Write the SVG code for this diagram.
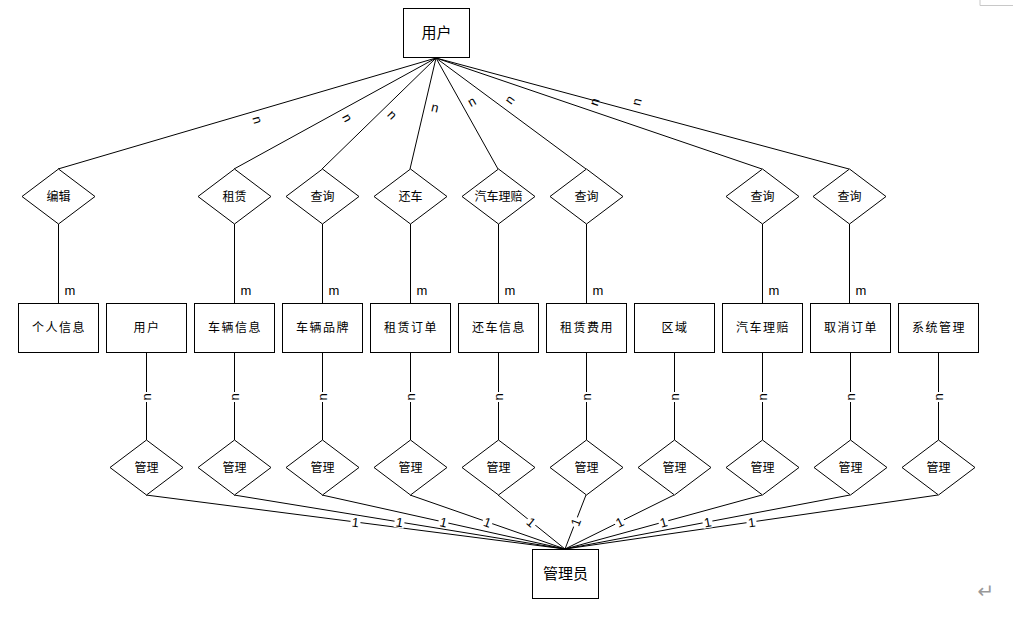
<svg xmlns="http://www.w3.org/2000/svg" width="1013" height="618" viewBox="0 0 1013 618">
<style>
.box{fill:#fff;stroke:#000;stroke-width:1}
.dia{fill:#fff;stroke:#000;stroke-width:1}
.ln{stroke:#000;stroke-width:1;fill:none}
.t{font-family:"Noto Sans CJK SC","Noto Sans",sans-serif;font-size:12px;fill:#000;text-anchor:middle}
.tr{font-family:"Noto Sans CJK SC","Noto Sans",sans-serif;font-size:12px;letter-spacing:1.5px;fill:#000;text-anchor:middle}
.tb{font-family:"Noto Sans CJK SC","Noto Sans",sans-serif;font-size:15px;fill:#000;text-anchor:middle}
.lab{font-family:"Liberation Sans",Arial,sans-serif;font-size:13px;fill:#000;text-anchor:middle}
.bg{fill:#fff}
</style>
<rect width="1013" height="618" fill="#fff"/>
<polyline points="980,0 980,5.5 1013,5.5" fill="none" stroke="#c8c8c8" stroke-width="1"/>
<g id="connectors">
<g class="ln">
<line x1="436" y1="58" x2="58" y2="169"/>
<line x1="436" y1="58" x2="234" y2="169"/>
<line x1="436" y1="58" x2="322" y2="169"/>
<line x1="436" y1="58" x2="410" y2="169"/>
<line x1="436" y1="58" x2="498" y2="169"/>
<line x1="436" y1="58" x2="586" y2="169"/>
<line x1="436" y1="58" x2="762" y2="169"/>
<line x1="436" y1="58" x2="849" y2="169"/>
<line x1="58.5" y1="224" x2="58.5" y2="303"/>
<line x1="234.5" y1="224" x2="234.5" y2="303"/>
<line x1="322.5" y1="224" x2="322.5" y2="303"/>
<line x1="410.5" y1="224" x2="410.5" y2="303"/>
<line x1="498.5" y1="224" x2="498.5" y2="303"/>
<line x1="586.5" y1="224" x2="586.5" y2="303"/>
<line x1="762.5" y1="224" x2="762.5" y2="303"/>
<line x1="849.5" y1="224" x2="849.5" y2="303"/>
<line x1="146.5" y1="352" x2="146.5" y2="440"/>
<line x1="234.5" y1="352" x2="234.5" y2="440"/>
<line x1="322.5" y1="352" x2="322.5" y2="440"/>
<line x1="410.5" y1="352" x2="410.5" y2="440"/>
<line x1="498.5" y1="352" x2="498.5" y2="440"/>
<line x1="586.5" y1="352" x2="586.5" y2="440"/>
<line x1="674.5" y1="352" x2="674.5" y2="440"/>
<line x1="762.5" y1="352" x2="762.5" y2="440"/>
<line x1="850.5" y1="352" x2="850.5" y2="440"/>
<line x1="938.5" y1="352" x2="938.5" y2="440"/>
<line x1="146" y1="495" x2="565" y2="549"/>
<line x1="234" y1="495" x2="565" y2="549"/>
<line x1="322" y1="495" x2="565" y2="549"/>
<line x1="410" y1="495" x2="565" y2="549"/>
<line x1="498" y1="495" x2="565" y2="549"/>
<line x1="586" y1="495" x2="565" y2="549"/>
<line x1="674" y1="495" x2="565" y2="549"/>
<line x1="762" y1="495" x2="565" y2="549"/>
<line x1="850" y1="495" x2="565" y2="549"/>
<line x1="938" y1="495" x2="565" y2="549"/>
</g>
<g id="labels-n-top" class="lab">
<text transform="translate(257,120) rotate(73.6)" y="4">n</text>
<text transform="translate(347,118) rotate(61.2)" y="4">n</text>
<text transform="translate(392,115) rotate(45.8)" y="4">n</text>
<text transform="translate(435,108) rotate(13.2)" y="4">n</text>
<text transform="translate(472,102) rotate(-29.2)" y="4">n</text>
<text transform="translate(510,100) rotate(-53.5)" y="4">n</text>
<text transform="translate(595,102) rotate(-71.2)" y="4">n</text>
<text transform="translate(637,102) rotate(-75)" y="4">n</text>
</g>
<g id="labels-m" class="lab">
<text x="70" y="295">m</text>
<text x="246" y="295">m</text>
<text x="334" y="295">m</text>
<text x="422" y="295">m</text>
<text x="510" y="295">m</text>
<text x="598" y="295">m</text>
<text x="774" y="295">m</text>
<text x="861" y="295">m</text>
</g>
<g id="labels-n-low" class="lab">
<g transform="translate(146.5,397)"><rect class="bg" x="-5" y="-5" width="10" height="10"/><text transform="rotate(-90)" y="4">n</text></g>
<g transform="translate(234.5,397)"><rect class="bg" x="-5" y="-5" width="10" height="10"/><text transform="rotate(-90)" y="4">n</text></g>
<g transform="translate(322.5,397)"><rect class="bg" x="-5" y="-5" width="10" height="10"/><text transform="rotate(-90)" y="4">n</text></g>
<g transform="translate(410.5,397)"><rect class="bg" x="-5" y="-5" width="10" height="10"/><text transform="rotate(-90)" y="4">n</text></g>
<g transform="translate(498.5,397)"><rect class="bg" x="-5" y="-5" width="10" height="10"/><text transform="rotate(-90)" y="4">n</text></g>
<g transform="translate(586.5,397)"><rect class="bg" x="-5" y="-5" width="10" height="10"/><text transform="rotate(-90)" y="4">n</text></g>
<g transform="translate(674.5,397)"><rect class="bg" x="-5" y="-5" width="10" height="10"/><text transform="rotate(-90)" y="4">n</text></g>
<g transform="translate(762.5,397)"><rect class="bg" x="-5" y="-5" width="10" height="10"/><text transform="rotate(-90)" y="4">n</text></g>
<g transform="translate(850.5,397)"><rect class="bg" x="-5" y="-5" width="10" height="10"/><text transform="rotate(-90)" y="4">n</text></g>
<g transform="translate(938.5,397)"><rect class="bg" x="-5" y="-5" width="10" height="10"/><text transform="rotate(-90)" y="4">n</text></g>
</g>
<g id="labels-1" class="lab">
<g transform="translate(355.5,522) rotate(7.3)"><rect class="bg" x="-5" y="-6" width="10" height="12"/><text y="5">1</text></g>
<g transform="translate(399.5,522) rotate(9.3)"><rect class="bg" x="-5" y="-6" width="10" height="12"/><text y="5">1</text></g>
<g transform="translate(443.5,522) rotate(12.5)"><rect class="bg" x="-5" y="-6" width="10" height="12"/><text y="5">1</text></g>
<g transform="translate(487.5,522) rotate(19.3)"><rect class="bg" x="-5" y="-6" width="10" height="12"/><text y="5">1</text></g>
<g transform="translate(531.5,522) rotate(38.9)"><rect class="bg" x="-5" y="-6" width="10" height="12"/><text y="5">1</text></g>
<g transform="translate(575.5,522) rotate(-68.7)"><rect class="bg" x="-5" y="-6" width="10" height="12"/><text y="5">1</text></g>
<g transform="translate(619.5,522) rotate(-26.4)"><rect class="bg" x="-5" y="-6" width="10" height="12"/><text y="5">1</text></g>
<g transform="translate(663.5,522) rotate(-15.3)"><rect class="bg" x="-5" y="-6" width="10" height="12"/><text y="5">1</text></g>
<g transform="translate(707.5,522) rotate(-10.7)"><rect class="bg" x="-5" y="-6" width="10" height="12"/><text y="5">1</text></g>
<g transform="translate(751.5,522) rotate(-8.2)"><rect class="bg" x="-5" y="-6" width="10" height="12"/><text y="5">1</text></g>
</g>
</g>
<g id="user-top"><rect class="box" x="403.5" y="8.5" width="66" height="49"/><text class="tb" x="436.5" y="38">用户</text></g>
<g id="admin"><rect class="box" x="532.5" y="549.5" width="66" height="49"/><text class="tb" x="565.5" y="579">管理员</text></g>
<g id="rel-edit"><polygon class="dia" points="58.5,169 95,196.5 58.5,224 22,196.5"/><text class="t" x="58.5" y="201">编辑</text></g>
<g id="rel-rent"><polygon class="dia" points="234.5,169 271,196.5 234.5,224 198,196.5"/><text class="t" x="234.5" y="201">租赁</text></g>
<g id="rel-query1"><polygon class="dia" points="322.5,169 359,196.5 322.5,224 286,196.5"/><text class="t" x="322.5" y="201">查询</text></g>
<g id="rel-return"><polygon class="dia" points="410.5,169 447,196.5 410.5,224 374,196.5"/><text class="t" x="410.5" y="201">还车</text></g>
<g id="rel-claim"><polygon class="dia" points="498.5,169 535,196.5 498.5,224 462,196.5"/><text class="t" x="498.5" y="201">汽车理赔</text></g>
<g id="rel-query2"><polygon class="dia" points="586.5,169 623,196.5 586.5,224 550,196.5"/><text class="t" x="586.5" y="201">查询</text></g>
<g id="rel-query3"><polygon class="dia" points="762.5,169 799,196.5 762.5,224 726,196.5"/><text class="t" x="762.5" y="201">查询</text></g>
<g id="rel-query4"><polygon class="dia" points="849.5,169 886,196.5 849.5,224 813,196.5"/><text class="t" x="849.5" y="201">查询</text></g>
<g id="ent-personal"><rect class="box" x="18.5" y="303.5" width="80" height="49"/><text class="tr" x="59" y="332">个人信息</text></g>
<g id="ent-user"><rect class="box" x="106.5" y="303.5" width="80" height="49"/><text class="tr" x="147" y="332">用户</text></g>
<g id="ent-vehicle"><rect class="box" x="194.5" y="303.5" width="80" height="49"/><text class="tr" x="235" y="332">车辆信息</text></g>
<g id="ent-brand"><rect class="box" x="282.5" y="303.5" width="80" height="49"/><text class="tr" x="323" y="332">车辆品牌</text></g>
<g id="ent-order"><rect class="box" x="370.5" y="303.5" width="80" height="49"/><text class="tr" x="411" y="332">租赁订单</text></g>
<g id="ent-return"><rect class="box" x="458.5" y="303.5" width="80" height="49"/><text class="tr" x="499" y="332">还车信息</text></g>
<g id="ent-fee"><rect class="box" x="546.5" y="303.5" width="80" height="49"/><text class="tr" x="587" y="332">租赁费用</text></g>
<g id="ent-area"><rect class="box" x="634.5" y="303.5" width="80" height="49"/><text class="tr" x="675" y="332">区域</text></g>
<g id="ent-claim"><rect class="box" x="722.5" y="303.5" width="80" height="49"/><text class="tr" x="763" y="332">汽车理赔</text></g>
<g id="ent-cancel"><rect class="box" x="810.5" y="303.5" width="80" height="49"/><text class="tr" x="851" y="332">取消订单</text></g>
<g id="ent-system"><rect class="box" x="898.5" y="303.5" width="80" height="49"/><text class="tr" x="939" y="332">系统管理</text></g>
<g id="mgr-1"><polygon class="dia" points="146.5,440 183,467.5 146.5,495 110,467.5"/><text class="t" x="146.5" y="472">管理</text></g>
<g id="mgr-2"><polygon class="dia" points="234.5,440 271,467.5 234.5,495 198,467.5"/><text class="t" x="234.5" y="472">管理</text></g>
<g id="mgr-3"><polygon class="dia" points="322.5,440 359,467.5 322.5,495 286,467.5"/><text class="t" x="322.5" y="472">管理</text></g>
<g id="mgr-4"><polygon class="dia" points="410.5,440 447,467.5 410.5,495 374,467.5"/><text class="t" x="410.5" y="472">管理</text></g>
<g id="mgr-5"><polygon class="dia" points="498.5,440 535,467.5 498.5,495 462,467.5"/><text class="t" x="498.5" y="472">管理</text></g>
<g id="mgr-6"><polygon class="dia" points="586.5,440 623,467.5 586.5,495 550,467.5"/><text class="t" x="586.5" y="472">管理</text></g>
<g id="mgr-7"><polygon class="dia" points="674.5,440 711,467.5 674.5,495 638,467.5"/><text class="t" x="674.5" y="472">管理</text></g>
<g id="mgr-8"><polygon class="dia" points="762.5,440 799,467.5 762.5,495 726,467.5"/><text class="t" x="762.5" y="472">管理</text></g>
<g id="mgr-9"><polygon class="dia" points="850.5,440 887,467.5 850.5,495 814,467.5"/><text class="t" x="850.5" y="472">管理</text></g>
<g id="mgr-10"><polygon class="dia" points="938.5,440 975,467.5 938.5,495 902,467.5"/><text class="t" x="938.5" y="472">管理</text></g>
<text x="986" y="598" font-family="DejaVu Sans,sans-serif" font-size="20" fill="#999" text-anchor="middle">↵</text>
</svg>
